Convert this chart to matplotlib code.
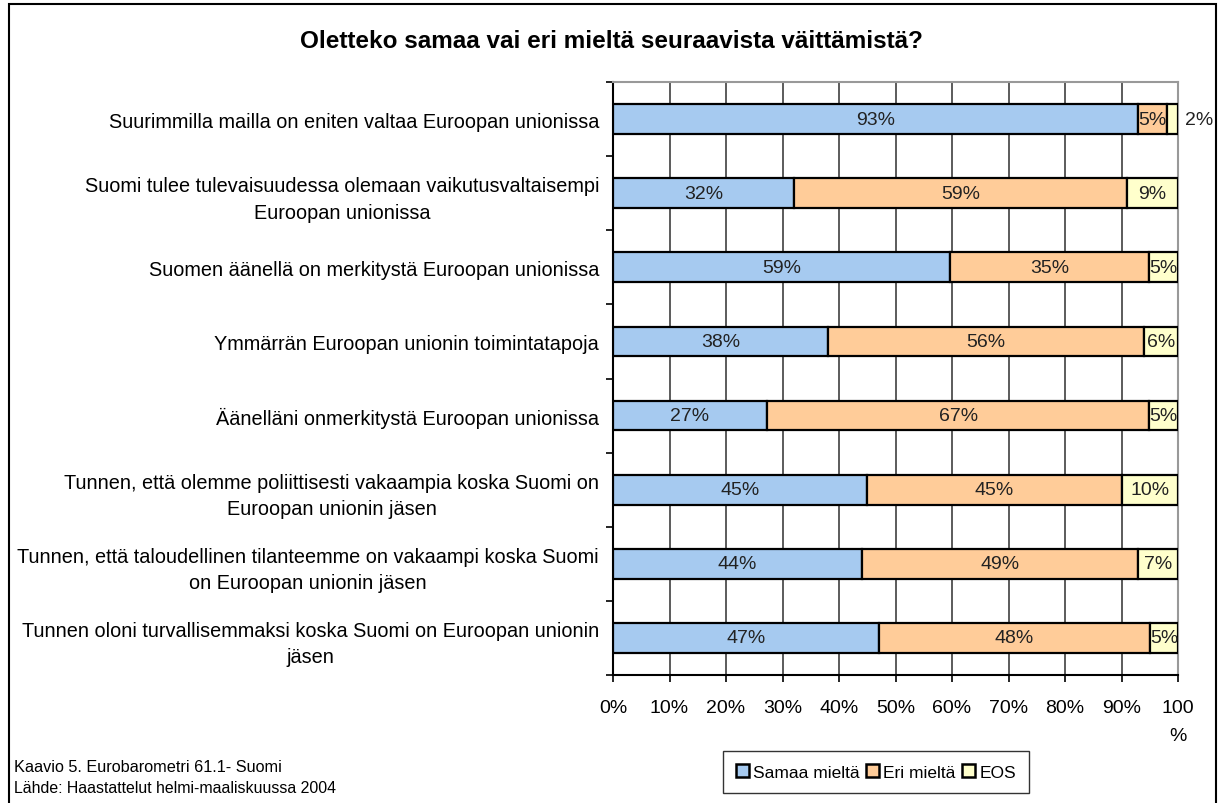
import matplotlib
matplotlib.use("Agg")
import matplotlib.pyplot as plt
from matplotlib.patches import Rectangle

plt.rcParams['font.family'] = ['Liberation Sans', 'DejaVu Sans']

categories = [
    "Suurimmilla mailla on eniten valtaa Euroopan unionissa",
    "Suomi tulee tulevaisuudessa olemaan vaikutusvaltaisempi\nEuroopan unionissa",
    "Suomen äänellä on merkitystä Euroopan unionissa",
    "Ymmärrän Euroopan unionin toimintatapoja",
    "Äänelläni onmerkitystä Euroopan unionissa",
    "Tunnen, että olemme poliittisesti vakaampia koska Suomi on\nEuroopan unionin jäsen",
    "Tunnen, että taloudellinen tilanteemme on vakaampi koska Suomi\non Euroopan unionin jäsen",
    "Tunnen oloni turvallisemmaksi koska Suomi on Euroopan unionin\njäsen",
]
samaa = [93, 32, 59, 38, 27, 45, 44, 47]
eri = [5, 59, 35, 56, 67, 45, 49, 48]
eos = [2, 9, 5, 6, 5, 10, 7, 5]
series_names = ["Samaa mieltä", "Eri mieltä", "EOS"]
colors = ["#A6CAF0", "#FFCC99", "#FFFFCC"]
xticklabels = ["0%", "10%", "20%", "30%", "40%", "50%", "60%", "70%", "80%", "90%", "100\n%"]

W, H = 1219, 804
fig = plt.figure(figsize=(W / 100, H / 100), dpi=100)
ax = fig.add_axes([613 / W, 1 - 676 / H, (1178 - 613) / W, (676 - 83) / H])

n = len(categories)
ypos = list(range(n))
series = [samaa, eri, eos]
totals = [a + b + c for a, b, c in zip(samaa, eri, eos)]
left = [0.0] * n
for vals, col, name in zip(series, colors, series_names):
    shares = [v / t * 100 for v, t in zip(vals, totals)]
    ax.barh(ypos, shares, left=left, height=0.4, color=col, edgecolor="black",
            linewidth=1.6, label=name, zorder=3)
    for i, (v, s) in enumerate(zip(vals, shares)):
        if name == "EOS" and i == 0:
            ax.text(left[i] + s + 1.2, i, f"{v}%", ha="left", va="center",
                    fontsize=14, color="#222222", zorder=4)
        else:
            ax.text(left[i] + s / 2, i, f"{v}%", ha="center", va="center",
                    fontsize=14, color="#222222", zorder=4)
    left = [l + s for l, s in zip(left, shares)]

ax.set_xlim(0, 100)
ax.set_ylim(n - 0.5, -0.5)
ax.set_xticks(range(0, 101, 10))
ax.set_xticklabels(xticklabels, fontsize=14)
for lbl in ax.get_xticklabels():
    lbl.set_linespacing(1.85)
ax.set_yticks([i + 0.5 for i in range(-1, n)])
ax.set_yticklabels([])
ax.set_yticks(ypos, minor=True)
ax.set_yticklabels(categories, minor=True, fontsize=14.3, multialignment="center")
for lbl in ax.get_yticklabels(minor=True):
    lbl.set_linespacing(1.5)
ax.tick_params(axis="y", which="minor", length=0, pad=10)
ax.tick_params(axis="y", which="major", length=5, width=1.2, direction="out")
ax.tick_params(axis="x", length=5, width=1.2, direction="out", pad=12)
ax.xaxis.grid(True, color="#404040", linewidth=1.2, zorder=0)
ax.set_axisbelow(True)
for s in ["left", "bottom"]:
    ax.spines[s].set_color("black")
    ax.spines[s].set_linewidth(1.5)
for s in ["top", "right"]:
    ax.spines[s].set_color("#999999")
    ax.spines[s].set_linewidth(1.5)

fig.text(611 / W, 1 - 42 / H, "Oletteko samaa vai eri mieltä seuraavista väittämistä?",
         ha="center", va="center", fontsize=17.5, fontweight="bold")

leg = fig.legend(loc="center", bbox_to_anchor=(876 / W, 1 - 773 / H), ncol=3,
                 fontsize=12.5, frameon=True, fancybox=False, edgecolor="black",
                 handlelength=0.75, handleheight=0.75, handletextpad=0.25,
                 columnspacing=0.35, borderpad=0.75, borderaxespad=0)
leg.get_frame().set_linewidth(1.0)
for h in leg.legend_handles:
    h.set_linewidth(1.8)

fig.text(14 / W, 1 - 768 / H, "Kaavio 5. Eurobarometri 61.1- Suomi", ha="left",
         va="center", fontsize=11.7)
fig.text(14 / W, 1 - 789 / H, "Lähde: Haastattelut helmi-maaliskuussa 2004", ha="left",
         va="center", fontsize=11.4)

frame = Rectangle((9 / W, -0.01), (1216 - 9) / W, 1 - 5 / H + 0.01,
                  transform=fig.transFigure, fill=False, edgecolor="black",
                  linewidth=1.5)
fig.patches.append(frame)

fig.savefig("out.png", dpi=100)
